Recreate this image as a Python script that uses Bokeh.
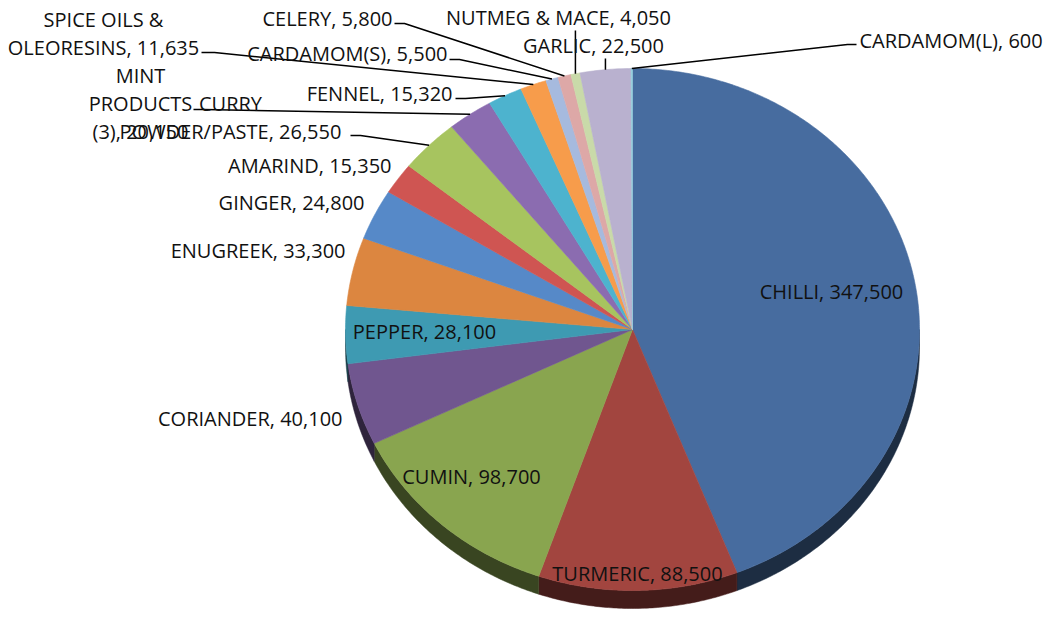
import numpy as np
from bokeh.plotting import figure
from bokeh.models import Range1d, ColumnDataSource
from bokeh.embed import file_html
from bokeh.resources import INLINE
from bokeh.core.properties import value

# ---------------- data ----------------
categories = ["CHILLI", "TURMERIC", "CUMIN", "CORIANDER", "PEPPER", "ENUGREEK",
              "GINGER", "AMARIND", "CURRY POWDER/PASTE", "MINT PRODUCTS (3)",
              "FENNEL", "SPICE OILS & OLEORESINS", "CARDAMOM(S)", "CELERY",
              "NUTMEG & MACE", "GARLIC", "CARDAMOM(L)"]
values = [347500, 88500, 98700, 40100, 28100, 33300,
          24800, 15350, 26550, 20150,
          15320, 11635, 5500, 5800,
          4050, 22500, 600]

# ---------------- styles ----------------
palette = ["#476C9F", "#A2453F", "#89A54F", "#70568F", "#3E9AB2", "#DC8640",
           "#5689C8", "#CF5552", "#A7C45F", "#8B6CB0", "#4DB3CE", "#F79C4B",
           "#A6BADE", "#DDA8A7", "#C9DAA9", "#B9B1CF", "#92CDDC"]

def darken(h, f=0.42):
    r, g, b = int(h[1:3], 16), int(h[3:5], 16), int(h[5:7], 16)
    return "#%02x%02x%02x" % (int(r * f), int(g * f), int(b * f))

# page-pixel geometry of the pie (layout)
CX, CY, RX, RY, DEPTH = 632.0, 329.0, 287.0, 261.0, 18.0
FONT = value("Open Sans")
FSIZE = "20px"
LINE_H = 28

# label layout: mode, anchor x, first-line y, wrap breaks, leader start (or None)
layout = {
    "CHILLI": ("center", 831, 291, [], None),
    "TURMERIC": ("center", 637, 573, [], None),
    "CUMIN": ("center", 471, 476, [], None),
    "PEPPER": ("center", 424, 331, [], None),
    "CORIANDER": ("right", 342, 418, [], None),
    "ENUGREEK": ("right", 345, 250, [], None),
    "GINGER": ("right", 364, 202, [], None),
    "AMARIND": ("right", 391, 165, [], None),
    "CURRY POWDER/PASTE": ("center", 230, 103, [1], (350, 135, 360)),
    "MINT PRODUCTS (3)": ("center", 140, 75, [1, 2], (193, 109, 203)),
    "FENNEL": ("right", 452, 93, [], (455, 98, 465)),
    "SPICE OILS & OLEORESINS": ("center", 103, 19, [3], (201, 52, 214)),
    "CARDAMOM(S)": ("right", 447, 53, [], (449, 59, 459)),
    "CELERY": ("right", 392, 18, [], (394, 23, 404)),
    "NUTMEG & MACE": ("center", 558, 17, [], ("v", 30)),
    "GARLIC": ("center", 593, 45, [], ("v", 58)),
    "CARDAMOM(L)": ("left", 859, 40, [], (856, 44, 847)),
}

W, H = 1050, 620
p = figure(width=W, height=H, output_backend="svg", toolbar_location=None,
           x_range=Range1d(0, W), y_range=Range1d(H, 0),
           x_axis_type=None, y_axis_type=None, min_border=0,
           outline_line_color=None, background_fill_color="white",
           border_fill_color="white")
p.grid.visible = False

total = float(sum(values))
fracs = np.array(values, dtype=float) / total
ends = np.cumsum(fracs) * 360.0
starts = ends - fracs * 360.0

def pt(theta_deg, dy=0.0):
    t = np.radians(theta_deg)
    return CX + RX * np.sin(t), CY - RY * np.cos(t) + dy

# side walls (3D depth)
sx, sy, sc = [], [], []
for a1, a2, c in zip(starts, ends, palette):
    s, e = max(a1, 90.0), min(a2, 270.0)
    if s < e:
        th = np.linspace(s, e, max(8, int((e - s) * 2)))
        tx, ty = pt(th)
        bx, by = pt(th[::-1], DEPTH)
        sx.append(list(tx) + list(bx))
        sy.append(list(ty) + list(by))
        sc.append(darken(c))
p.patches(sx, sy, fill_color=sc, line_color=sc, line_width=0.5)

# top faces
fx, fy = [], []
for a1, a2 in zip(starts, ends):
    th = np.linspace(a1, a2, max(4, int((a2 - a1) * 2)))
    ax, ay = pt(th)
    fx.append([CX] + list(ax))
    fy.append([CY] + list(ay))
p.patches(fx, fy, fill_color=palette, line_color=palette, line_width=0.6)

# labels and leaders
tx_, ty_, tt, ta = [], [], [], []
lx, ly = [], []
for cat, v, a1, a2 in zip(categories, values, starts, ends):
    mode, ax_, ay_, breaks, lead = layout[cat]
    full = f"{cat}, {v:,}"
    words = full.split(" ")
    cuts = [0] + breaks + [len(words)]
    lines = [" ".join(words[cuts[i]:cuts[i + 1]]) for i in range(len(cuts) - 1)]
    for i, ln in enumerate(lines):
        tx_.append(ax_)
        ty_.append(ay_ + i * LINE_H)
        tt.append(ln)
        ta.append(mode)
    if lead is not None:
        mx, my = pt((a1 + a2) / 2.0)
        if lead[0] == "v":
            lx.append([mx, mx])
            ly.append([lead[1], my])
        else:
            x0, y0, xe = lead
            lx.append([x0, xe, mx])
            ly.append([y0, y0, my])

p.multi_line(lx, ly, line_color="black", line_width=1.5)

for mode in ("left", "center", "right"):
    idx = [i for i, m in enumerate(ta) if m == mode]
    if not idx:
        continue
    src = ColumnDataSource(dict(x=[tx_[i] for i in idx], y=[ty_[i] for i in idx],
                                t=[tt[i] for i in idx]))
    p.text("x", "y", text="t", source=src, text_font=FONT, text_font_size=FSIZE,
           text_align=mode, text_baseline="middle", text_color="#111111")

open("out.html", "w").write(file_html(p, INLINE))
